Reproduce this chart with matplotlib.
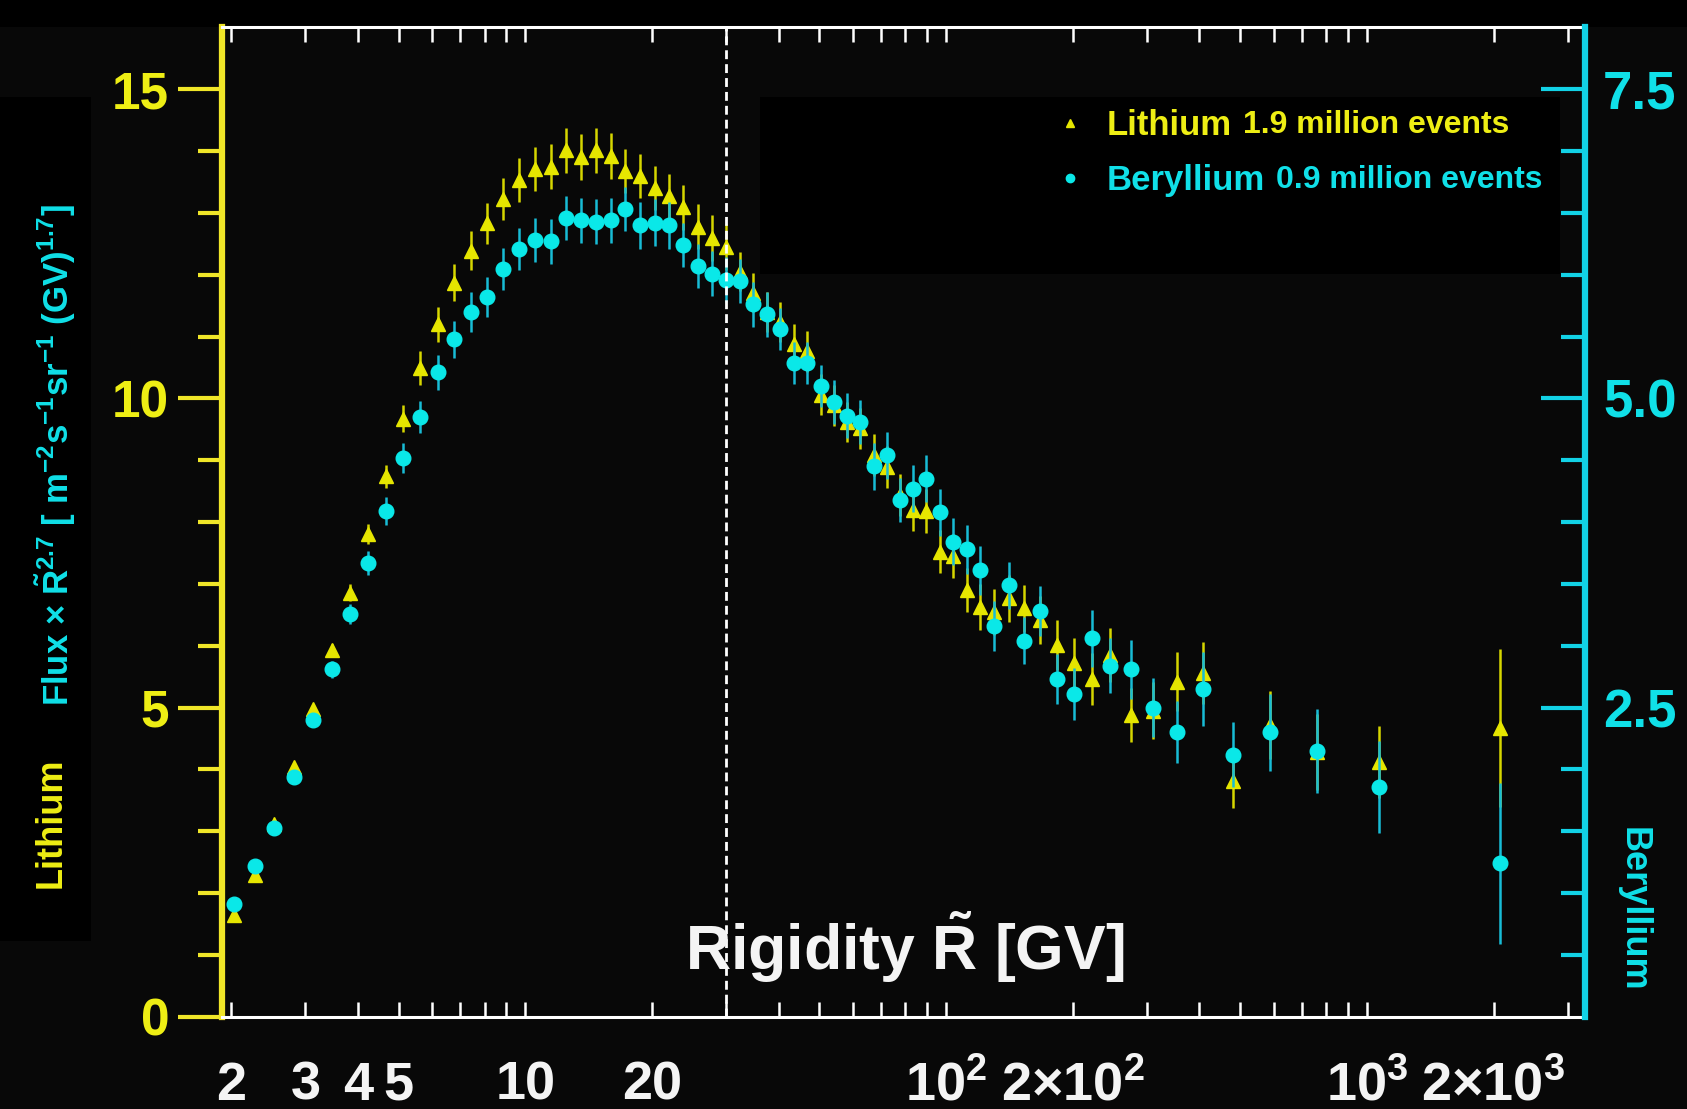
import matplotlib
matplotlib.use("Agg")
import matplotlib.pyplot as plt
from matplotlib.lines import Line2D
from matplotlib.patches import Rectangle
from matplotlib.ticker import FixedLocator, NullLocator, NullFormatter

# ---------------- data ----------------
rigidity = [2.03, 2.27, 2.53, 2.82, 3.13, 3.46, 3.83, 4.22, 4.65, 5.12,
            5.63, 6.18, 6.78, 7.42, 8.11, 8.86, 9.67, 10.54, 11.49, 12.49,
            13.54, 14.69, 15.94, 17.29, 18.73, 20.28, 21.93, 23.73, 25.68, 27.73,
            29.93, 32.28, 34.78, 37.47, 40.37, 43.47, 46.77, 50.32, 54.12, 58.16,
            62.51, 67.2, 72.26, 77.65, 83.45, 89.69, 96.44, 103.9, 111.9, 120.4,
            129.9, 140.8, 153.2, 167.3, 183.3, 201.2, 221.7, 245.5, 274.5, 309.9,
            353.6, 408.8, 481.1, 588.6, 762.0, 1069.6, 2076.0]

# Lithium flux x R^2.7 (left axis)
li_flux = [1.64, 2.29, 3.12, 4.04, 4.98, 5.93, 6.86, 7.81, 8.74, 9.67,
           10.49, 11.20, 11.87, 12.39, 12.83, 13.22, 13.53, 13.71, 13.75, 14.01,
           13.90, 14.01, 13.92, 13.68, 13.60, 13.40, 13.27, 13.09, 12.78, 12.59,
           12.45, 12.05, 11.71, 11.40, 11.24, 10.88, 10.76, 10.06, 9.89, 9.62,
           9.52, 9.08, 8.89, 8.44, 8.20, 8.18, 7.52, 7.45, 6.90, 6.63,
           6.55, 6.77, 6.61, 6.42, 6.01, 5.72, 5.46, 5.85, 4.88, 4.95,
           5.42, 5.56, 3.82, 4.72, 4.28, 4.12, 4.67]
li_err = [0.03, 0.04, 0.05, 0.06, 0.08, 0.10, 0.14, 0.16, 0.19, 0.22,
          0.27, 0.28, 0.30, 0.31, 0.33, 0.34, 0.35, 0.36, 0.36, 0.37,
          0.37, 0.37, 0.37, 0.36, 0.36, 0.36, 0.36, 0.36, 0.36, 0.37,
          0.37, 0.32, 0.32, 0.32, 0.32, 0.32, 0.33, 0.33, 0.33, 0.33,
          0.33, 0.34, 0.34, 0.34, 0.34, 0.35, 0.35, 0.36, 0.36, 0.37,
          0.37, 0.38, 0.38, 0.39, 0.40, 0.40, 0.42, 0.43, 0.44, 0.46,
          0.48, 0.50, 0.45, 0.55, 0.62, 0.58, 1.27]

# Beryllium flux x R^2.7 (right axis)
be_flux = [0.91, 1.22, 1.53, 1.94, 2.40, 2.81, 3.26, 3.67, 4.09, 4.52,
           4.85, 5.21, 5.48, 5.70, 5.82, 6.05, 6.21, 6.28, 6.27, 6.46,
           6.44, 6.43, 6.44, 6.53, 6.40, 6.42, 6.40, 6.24, 6.07, 6.01,
           5.96, 5.95, 5.76, 5.68, 5.56, 5.29, 5.29, 5.10, 4.97, 4.86,
           4.81, 4.45, 4.54, 4.18, 4.27, 4.35, 4.08, 3.84, 3.78, 3.61,
           3.16, 3.49, 3.04, 3.28, 2.73, 2.61, 3.06, 2.84, 2.81, 2.50,
           2.30, 2.65, 2.12, 2.30, 2.15, 1.86, 1.24]
be_err = [0.02, 0.02, 0.03, 0.03, 0.04, 0.07, 0.08, 0.10, 0.11, 0.12,
          0.13, 0.14, 0.15, 0.16, 0.16, 0.17, 0.17, 0.18, 0.18, 0.18,
          0.18, 0.18, 0.18, 0.18, 0.19, 0.19, 0.19, 0.18, 0.18, 0.18,
          0.18, 0.18, 0.18, 0.18, 0.17, 0.17, 0.17, 0.17, 0.18, 0.18,
          0.18, 0.19, 0.19, 0.18, 0.19, 0.19, 0.19, 0.19, 0.20, 0.20,
          0.20, 0.19, 0.19, 0.20, 0.20, 0.21, 0.23, 0.22, 0.24, 0.24,
          0.25, 0.30, 0.26, 0.31, 0.34, 0.37, 0.65]

divider_rigidity = 30.0

xtick_pos = [2, 3, 4, 5, 6, 7, 8, 9, 10, 20, 30, 40, 50, 60, 70, 80, 90,
             100, 200, 300, 400, 500, 600, 700, 800, 900, 1000, 2000, 3000]
xlabel_pos = [2, 3, 4, 5, 10, 20, 100, 200, 1000, 2000]
xlabel_txt = ["2", "3", "4", "5", "10", "20", r"$10^{2}$", "2×$10^{2}$",
              r"$10^{3}$", "2×$10^{3}$"]
left_ticks = [0, 5, 10, 15]
left_labels = ["0", "5", "10", "15"]
left_minor = [1, 2, 3, 4, 6, 7, 8, 9, 11, 12, 13, 14]
right_ticks = [2.5, 5.0, 7.5]
right_labels = ["2.5", "5.0", "7.5"]
right_minor = [0.5, 1.0, 1.5, 2.0, 3.0, 3.5, 4.0, 4.5, 5.5, 6.0, 6.5, 7.0]

legend_names = ["Lithium", "Beryllium"]
legend_extra = ["1.9 million events", "0.9 million events"]

# ---------------- style ----------------
plt.rcParams["font.family"] = ["Liberation Sans", "DejaVu Sans"]
plt.rcParams["font.weight"] = "bold"
plt.rcParams["mathtext.fontset"] = "custom"
plt.rcParams["mathtext.rm"] = "Liberation Sans:bold"
plt.rcParams["mathtext.it"] = "Liberation Sans:bold"
plt.rcParams["mathtext.bf"] = "Liberation Sans:bold"
plt.rcParams["mathtext.default"] = "rm"

BG = "#080808"
YEL_AX = "#f0e628"
YEL_TXT = "#eeee14"
YEL_MK = "#e6e600"
YEL_BAR = "#d6d600"
CY_AX = "#12d2e6"
CY_TXT = "#10e0e8"
CY_MK = "#0ae8e8"
CY_BAR = "#18bcd6"
WHITE = "#f4f4f4"

W, H = 1687, 1109
fig = plt.figure(figsize=(W / 100, H / 100), dpi=100, facecolor=BG)

# darker panels behind parts of the picture
for (x0, y0, x1, y1) in [(0, 0, W, 27), (0, 97, 91, 941), (760, 97, 1560, 274)]:
    fig.patches.append(Rectangle((x0 / W, 1 - y1 / H), (x1 - x0) / W, (y1 - y0) / H,
                                 transform=fig.transFigure, facecolor="black",
                                 edgecolor="none", zorder=-5))

ax_left, ax_right, ax_top, ax_bot = 222, 1585, 27.4, 1016.8
ax = fig.add_axes([ax_left / W, 1 - ax_bot / H, (ax_right - ax_left) / W, (ax_bot - ax_top) / H])
ax.set_facecolor("none")
ax.set_xscale("log")
ax.set_xlim(1.9, 3300)
ax.set_ylim(0, 16)

ax.errorbar(rigidity, li_flux, yerr=li_err, fmt="^", color=YEL_MK, ecolor=YEL_BAR,
            ms=10.5, mec=YEL_MK, elinewidth=1.8, capsize=0, zorder=3)

ax2 = ax.twinx()
ax2.set_ylim(0, 8)
ax2.errorbar(rigidity, be_flux, yerr=be_err, fmt="o", color=CY_MK, ecolor=CY_BAR,
             ms=10.5, mec=CY_MK, elinewidth=1.8, capsize=0, zorder=3)
ax2.axvline(divider_rigidity, color="white", lw=2.0, dashes=(3.2, 1.8), zorder=5)

# x axis
ax.xaxis.set_major_locator(FixedLocator(xtick_pos))
ax.xaxis.set_major_formatter(NullFormatter())
ax.xaxis.set_minor_locator(NullLocator())
ax.tick_params(axis="x", which="major", direction="in", top=True, bottom=True,
               length=11, width=1.8, color="white")
for p, t in zip(xlabel_pos, xlabel_txt):
    ax.text(p, -0.084, t, transform=ax.get_xaxis_transform(), ha="center",
            va="baseline", fontsize=39, color=WHITE, clip_on=False)

# left axis
ax.set_yticks(left_ticks, left_labels)
ax.yaxis.set_minor_locator(FixedLocator(left_minor))
ax.tick_params(axis="y", which="major", direction="out", length=32, width=3,
               color=YEL_AX, labelcolor=YEL_TXT, labelsize=37, pad=6)
ax.tick_params(axis="y", which="minor", direction="out", length=17, width=3, color=YEL_AX)

# right axis
ax2.set_yticks(right_ticks, right_labels)
ax2.yaxis.set_minor_locator(FixedLocator(right_minor))
ax2.tick_params(axis="y", which="major", direction="in", length=32, width=3,
                color=CY_AX, labelcolor=CY_TXT, labelsize=38, pad=13)
ax2.tick_params(axis="y", which="minor", direction="in", length=17, width=3, color=CY_AX)

for s in ["top", "bottom"]:
    ax.spines[s].set_color("white")
    ax.spines[s].set_linewidth(2.2)
ax.spines["left"].set_color(YEL_AX)
ax.spines["left"].set_linewidth(4.5)
ax.spines["right"].set_visible(False)
for s in ["left", "top", "bottom"]:
    ax2.spines[s].set_visible(False)
ax2.spines["right"].set_color(CY_AX)
ax2.spines["right"].set_linewidth(4.5)

# axis titles
fig.text(905 / W, 1 - 970 / H, r"Rigidity $\tilde{\mathrm{R}}$ [GV]", ha="center",
         va="baseline", fontsize=45, color=WHITE)
fig.text(56 / W, 1 - 455 / H,
         r"Flux × $\tilde{\mathrm{R}}^{2.7}$ [ m$^{-2}$s$^{-1}$sr$^{-1}$ (GV)$^{1.7}$]",
         rotation=90, ha="center", va="center", fontsize=25, color=CY_TXT)
fig.text(51 / W, 1 - 823 / H, "Lithium", rotation=90, ha="center", va="center",
         fontsize=26, color=YEL_TXT)
fig.text(1633 / W, 1 - 909 / H, "Beryllium", rotation=-90, ha="center", va="center",
         fontsize=26, color=CY_TXT)

# legend
handles = [Line2D([], [], marker="^", ls="none", color=YEL_MK, ms=6),
           Line2D([], [], marker="o", ls="none", color=CY_MK, ms=6)]
leg = ax2.legend(handles, legend_names, loc="upper left",
                 bbox_to_anchor=(1060 / W, 1 - 109 / H), bbox_transform=fig.transFigure,
                 frameon=False, prop={"size": 25, "weight": "bold"},
                 labelcolor=[YEL_TXT, CY_TXT], handlelength=0.6, handletextpad=0.75,
                 labelspacing=0.64, borderpad=0, borderaxespad=0)
for t, extra in zip(leg.get_texts(), legend_extra):
    ax2.annotate(extra, xy=(1, 0), xycoords=t, xytext=(8, 1.5),
                 textcoords="offset points", ha="left", va="bottom",
                 fontsize=23, color=t.get_color(), zorder=10)

fig.canvas.draw()
fig.savefig("out.png", dpi=100, facecolor=BG)
